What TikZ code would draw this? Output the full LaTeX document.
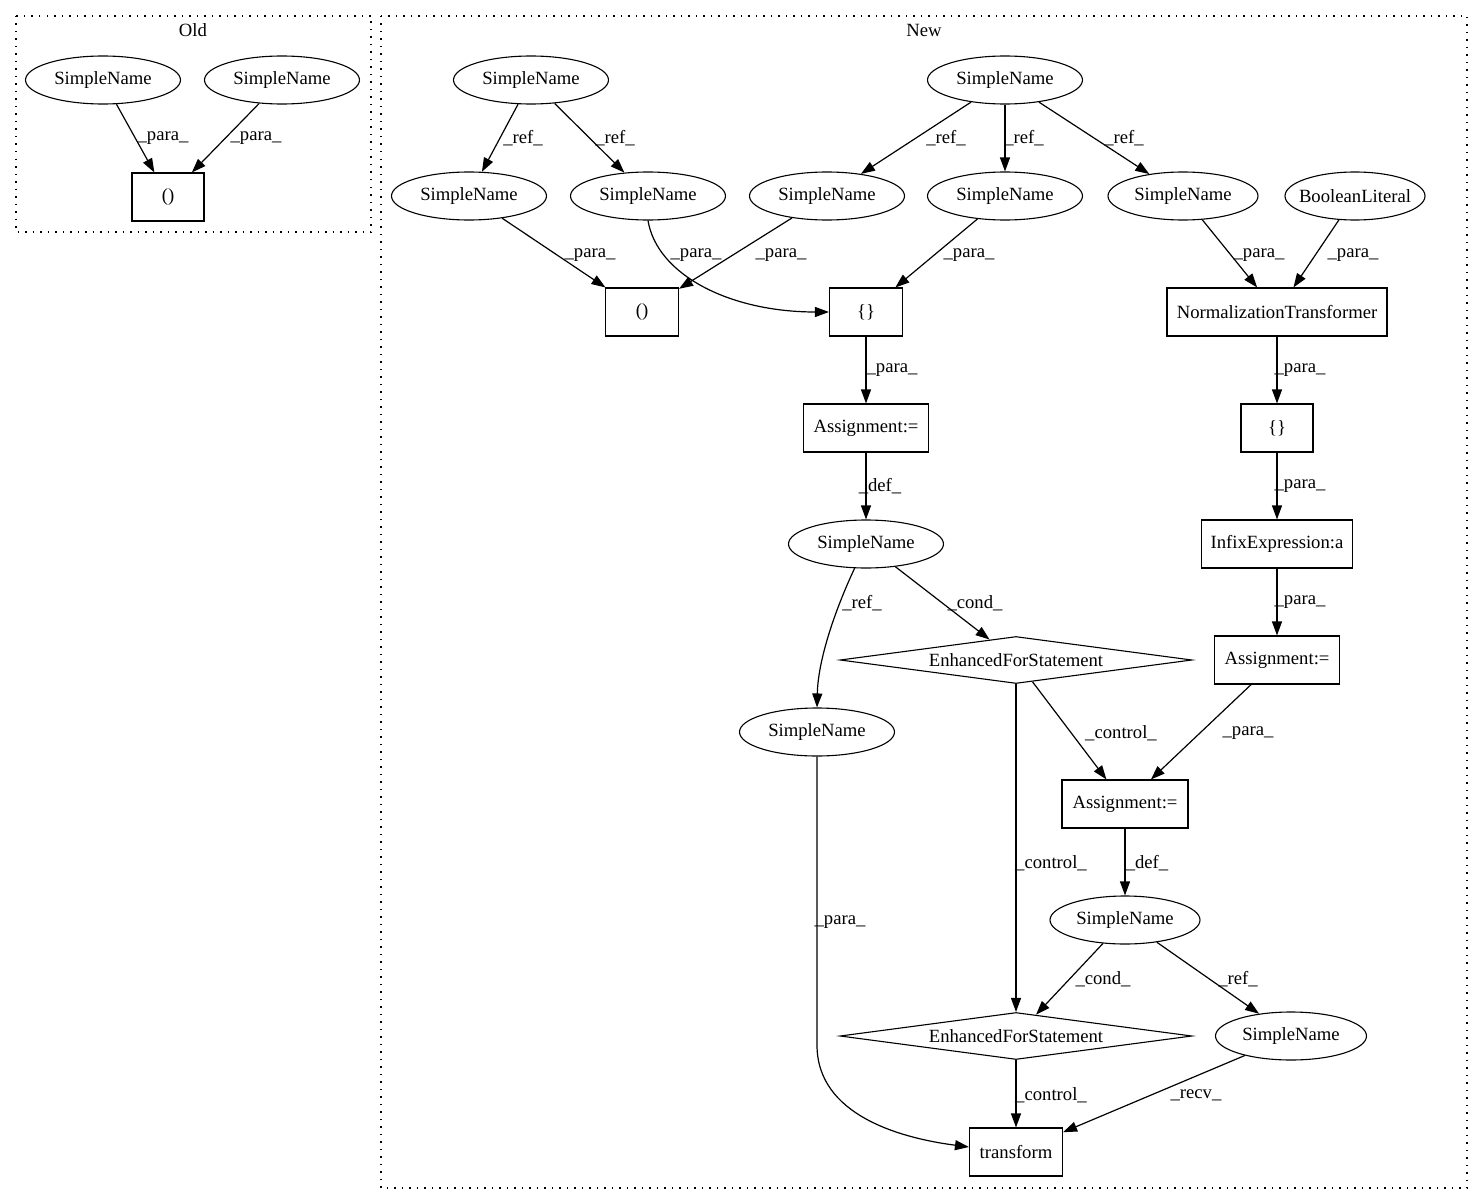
\documentclass[tikz,border=0pt]{standalone}
\usepackage{fontspec}
\setmainfont{Liberation Serif}
\usetikzlibrary{shapes.geometric,arrows.meta}
\newcommand\zw[1]{\makebox[0pt]{#1}}
\begin{document}
\begin{tikzpicture}[x=1pt,y=-1pt,
  every node/.style={font=\fontsize{18.67}{22}\selectfont},
  ell/.style={draw, ellipse, inner sep=0pt, minimum width=155pt, minimum height=48pt, line width=1.1pt},
  box/.style={draw, rectangle, inner sep=0pt, minimum height=48pt, line width=1.1pt},
  dia/.style={draw, diamond, inner sep=0pt, minimum width=352pt, minimum height=47pt, line width=1.1pt},
  conn/.style={-{Triangle[length=14pt,width=10pt]}, line width=1.2pt},
  lbl/.style={inner sep=0pt},
  cluster/.style={draw, dash pattern=on 1.5pt off 6pt, line width=1.2pt}
]
\useasboundingbox (0,0) rectangle (1483,1204);
% clusters
\draw[cluster] (16,16) rectangle (371,232);
\node[lbl] (oldlbl) at (193,30) {Old};
\draw[cluster] (381,16) rectangle (1467,1188);
\node[lbl] (newlbl) at (924,30) {New};

% Old nodes
\node[ell] (o1) at (103,80) {\zw{SimpleName}};
\node[ell] (o2) at (282,80) {\zw{SimpleName}};
\node[box, minimum width=72pt] (o3) at (168,197) {()};

% New nodes
\node[ell] (n1) at (531,80) {\zw{SimpleName}};
\node[ell] (n2) at (1005,80) {\zw{SimpleName}};
\node[ell] (n3) at (469,196) {\zw{SimpleName}};
\node[ell] (n4) at (648,196) {\zw{SimpleName}};
\node[ell] (n5) at (827,196) {\zw{SimpleName}};
\node[ell] (n6) at (1005,196) {\zw{SimpleName}};
\node[ell, minimum width=150pt] (n7) at (1183,196) {\zw{SimpleName}};
\node[ell, minimum width=140pt] (n8) at (1355,196) {\zw{BooleanLiteral}};
\node[box, minimum width=73pt] (n9) at (642,312) {()};
\node[box, minimum width=73pt] (n10) at (866,312) {\{\}};
\node[box, minimum width=220pt] (nt) at (1277,312) {NormalizationTransformer};
\node[box, minimum width=125pt] (n11) at (866,428) {Assignment:=};
\node[box, minimum width=72pt] (n12) at (1277,428) {\{\}};
\node[ell] (n14) at (866,544) {\zw{SimpleName}};
\node[box, minimum width=151pt] (n13) at (1277,544) {InfixExpression:a};
\node[dia] (n16) at (1016,660) {\zw{EnhancedForStatement}};
\node[box, minimum width=125pt] (n15) at (1277,660) {Assignment:=};
\node[ell] (n17) at (817,732) {\zw{SimpleName}};
\node[box, minimum width=126pt] (n18) at (1125,804) {Assignment:=};
\node[ell, minimum width=150pt] (n19) at (1125,920) {\zw{SimpleName}};
\node[dia] (n20) at (1016,1036) {\zw{EnhancedForStatement}};
\node[ell, minimum width=151pt] (n21) at (1291,1036) {\zw{SimpleName}};
\node[box, minimum width=93pt] (n22) at (1016,1152) {transform};

% Old edges
\draw[conn] (o1) -- (o3);
\draw[conn] (o2) -- (o3);
\node[lbl] (lo1) at (163,138) {\_para\_};
\node[lbl] (lo2) at (256,138) {\_para\_};

% New edges
\draw[conn] (n1) -- (n3);
\draw[conn] (n1) -- (n4);
\draw[conn] (n2) -- (n5);
\draw[conn] (n2) -- (n6);
\draw[conn] (n2) -- (n7);
\draw[conn] (n3) -- (n9);
\draw[conn] (n5) -- (n9);
\draw[conn] (n4.south) .. controls (657,275) and (730,312) .. (n10.west);
\draw[conn] (n6) -- (n10);
\draw[conn] (n7) -- (nt);
\draw[conn] (n8) -- (nt);
\draw[conn] (n10) -- (n11);
\draw[conn] (nt) -- (n12);
\draw[conn] (n11) -- (n14);
\draw[conn] (n12) -- (n13);
\draw[conn] (n13) -- (n15);
\draw[conn] (n14) .. controls (835,610) and (818,660) .. (n17.north);
\draw[conn] (n14) -- (n16);
\draw[conn] (n16) -- (n18);
\draw[conn] (n15) -- (n18);
\draw[conn] (n16.south) -- (n20.north);
\draw[conn] (n18) -- (n19);
\draw[conn] (n17.south) -- (817,1045) .. controls (817,1115) and (900,1138) .. (n22.west |- 0,1147);
\draw[conn] (n19) -- (n20);
\draw[conn] (n19) -- (n21);
\draw[conn] (n20.south) -- (n22.north);
\draw[conn] (n21) -- (n22);

% labels
\node[lbl] (l1) at (523,138) {\_ref\_};
\node[lbl] (l2) at (615,138) {\_ref\_};
\node[lbl] (l3) at (946,138) {\_ref\_};
\node[lbl] (l4) at (1024,138) {\_ref\_};
\node[lbl] (l5) at (1124,138) {\_ref\_};
\node[lbl] (l6) at (590,255) {\_para\_};
\node[lbl] (l7) at (696,255) {\_para\_};
\node[lbl] (l8) at (781,255) {\_para\_};
\node[lbl] (l9) at (969,255) {\_para\_};
\node[lbl] (l10) at (1259,255) {\_para\_};
\node[lbl] (l11) at (1353,255) {\_para\_};
\node[lbl] (l12) at (892,370) {\_para\_};
\node[lbl] (l13) at (1300,370) {\_para\_};
\node[lbl] (l14) at (880,486) {\_def\_};
\node[lbl] (l15) at (1300,486) {\_para\_};
\node[lbl] (l16) at (1300,602) {\_para\_};
\node[lbl] (l17) at (862,603) {\_ref\_};
\node[lbl] (l18) at (975,603) {\_cond\_};
\node[lbl] (l19) at (1121,733) {\_control\_};
\node[lbl] (l20) at (1248,733) {\_para\_};
\node[lbl] (l21) at (1051,863) {\_control\_};
\node[lbl] (l22) at (1147,863) {\_def\_};
\node[lbl] (l23) at (840,922) {\_para\_};
\node[lbl] (l24) at (1103,979) {\_cond\_};
\node[lbl] (l25) at (1238,979) {\_ref\_};
\node[lbl] (l26) at (1051,1095) {\_control\_};
\node[lbl] (l27) at (1196,1095) {\_recv\_};
\end{tikzpicture}
\end{document}
